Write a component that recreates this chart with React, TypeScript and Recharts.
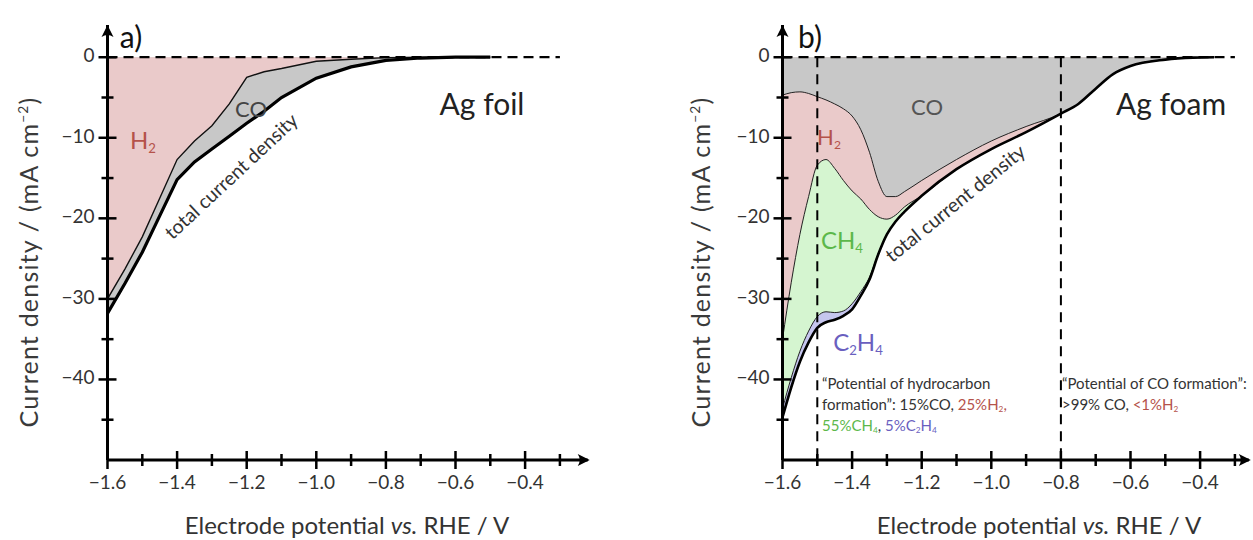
import React from "react";
import { ComposedChart, Area, Line, XAxis, YAxis, ReferenceLine, ReferenceDot } from "recharts";

const FONT = "Lato, 'Open Sans', sans-serif";

// axis ticks (potential in V vs RHE, current density in mA cm-2)
const X_MAJOR = [-1.6, -1.4, -1.2, -1.0, -0.8, -0.6, -0.4];
const X_LABELS = ["−1.6", "−1.4", "−1.2", "−1.0", "−0.8", "−0.6", "−0.4"];
const X_MINOR = [-1.5, -1.3, -1.1, -0.9, -0.7, -0.5, -0.3];
const Y_MAJOR = [0, -10, -20, -30, -40];
const Y_LABELS = ["0", "−10", "−20", "−30", "−40"];
const Y_MINOR = [-5, -15, -25, -35, -45];

// a) Ag foil
const A_POTENTIAL = [-1.6, -1.55, -1.5, -1.45, -1.4, -1.35, -1.3, -1.25, -1.2, -1.15, -1.1, -1.0, -0.9, -0.8, -0.7, -0.6, -0.5];
const A_TOTAL = [-31.8, -28.1, -24.2, -19.7, -15.2, -13.0, -11.4, -9.8, -8.2, -6.7, -5.0, -2.6, -1.2, -0.4, -0.1, 0, 0];
const A_H2_EDGE = [-30.0, -26.3, -22.3, -17.5, -12.7, -10.4, -8.5, -5.8, -2.5, -1.8, -1.4, -0.5, -0.25, -0.05, 0, 0, 0];

// b) Ag foam
const B_POTENTIAL = [-1.6, -1.575, -1.55, -1.525, -1.5, -1.475, -1.45, -1.425, -1.4, -1.375, -1.35, -1.325, -1.3, -1.275, -1.25, -1.2, -1.1, -1.0, -0.9, -0.8, -0.75, -0.7, -0.65, -0.6, -0.5, -0.42, -0.36];
const B_TOTAL = [-44.7, -41.0, -37.8, -35.4, -33.6, -32.9, -32.6, -32.1, -31.3, -29.6, -27.6, -24.5, -22.0, -20.4, -19.2, -17.2, -13.9, -11.4, -9.3, -7.0, -5.8, -3.9, -2.1, -1.1, -0.3, -0.05, 0];
const B_C2H4_EDGE = [-43.6, -39.8, -36.5, -34.0, -32.2, -31.6, -31.7, -31.5, -30.6, -29.1, -27.3, -24.4, -22.0, -20.4, -19.2, -17.2, -13.9, -11.4, -9.3, -7.0, -5.8, -3.9, -2.1, -1.1, -0.3, -0.05, 0];
const B_CH4_EDGE = [-35.0, -28.0, -22.0, -17.3, -13.4, -12.7, -13.8, -15.3, -16.6, -17.6, -18.9, -19.8, -20.1, -19.6, -18.6, -17.2, -13.9, -11.4, -9.3, -7.0, -5.8, -3.9, -2.1, -1.1, -0.3, -0.05, 0];
const B_H2_EDGE = [-4.7, -4.4, -4.3, -4.5, -4.9, -5.3, -5.8, -6.4, -7.3, -9.0, -11.8, -15.4, -17.3, -17.3, -16.7, -15.3, -12.7, -10.4, -8.6, -7.0, -5.8, -3.9, -2.1, -1.1, -0.3, -0.05, 0];

const dataA = A_POTENTIAL.map((v, i) => ({ v, total: A_TOTAL[i], h2: A_H2_EDGE[i] }));
const dataB = B_POTENTIAL.map((v, i) => ({
  v,
  total: B_TOTAL[i],
  c2h4: B_C2H4_EDGE[i],
  ch4: B_CH4_EDGE[i],
  h2: B_H2_EDGE[i],
}));

const X_TICKS = [...X_MAJOR, ...X_MINOR].sort((a, b) => a - b);
const Y_TICKS = [...Y_MAJOR, ...Y_MINOR].sort((a, b) => a - b);

const XTick = (props: any) => {
  const { x, y, payload } = props;
  const i = X_MAJOR.findIndex((t) => Math.abs(t - payload.value) < 1e-6);
  const h = i >= 0 ? 9 : 6;
  return (
    <g>
      <line x1={x} x2={x} y1={y - h} y2={y + h} stroke="#000" strokeWidth={2.5} />
      {i >= 0 && (
        <text x={x} y={y + 24} textAnchor="middle" dominantBaseline="middle" fontSize={19} fill="#333" fontFamily={FONT}>
          {X_LABELS[i]}
        </text>
      )}
    </g>
  );
};

const YTick = (props: any) => {
  const { x, y, payload } = props;
  const i = Y_MAJOR.findIndex((t) => Math.abs(t - payload.value) < 1e-6);
  const w = i >= 0 ? 9 : 6;
  return (
    <g>
      <line x1={x - w} x2={x + w} y1={y} y2={y} stroke="#000" strokeWidth={2.5} />
      {i >= 0 && (
        <text x={x - 13} y={y} textAnchor="end" dominantBaseline="middle" fontSize={19} fill="#333" fontFamily={FONT}>
          {Y_LABELS[i]}
        </text>
      )}
    </g>
  );
};

const UpArrow = (p: any) => (
  <path d={`M ${p.cx} ${p.cy} L ${p.cx + 6} ${p.cy + 12} Q ${p.cx} ${p.cy + 8} ${p.cx - 6} ${p.cy + 12} Z`} fill="#000" />
);
const RightArrow = (p: any) => (
  <path d={`M ${p.cx + 2} ${p.cy} L ${p.cx - 10} ${p.cy + 6} Q ${p.cx - 6} ${p.cy} ${p.cx - 10} ${p.cy - 6} Z`} fill="#000" />
);

const Txt = ({ x, y, size = 20, color = "#333", rotate = 0, spacing = 0, children }: any) => (
  <div
    style={{
      position: "absolute",
      left: x,
      top: y,
      transform: `translate(-50%, -50%) rotate(${rotate}deg)`,
      fontSize: size,
      color,
      letterSpacing: spacing,
      whiteSpace: "nowrap",
      lineHeight: 1,
    }}
  >
    {children}
  </div>
);

const Sub = ({ children }: any) => (
  <sub style={{ fontSize: "0.55em", verticalAlign: "-0.3em", lineHeight: 0 }}>{children}</sub>
);

const YMIN = -50;
const YMAX = 4;
const PX_PER_V = 348;

const axes = (xMax: number) => [
  <XAxis
    key="x"
    type="number"
    dataKey="v"
    domain={[-1.6, xMax]}
    allowDataOverflow
    ticks={X_TICKS}
    interval={0}
    tick={<XTick />}
    tickLine={false}
    tickSize={0}
    tickMargin={0}
    height={40}
    axisLine={{ stroke: "#000", strokeWidth: 3 }}
  />,
  <YAxis
    key="y"
    type="number"
    domain={[YMIN, YMAX]}
    allowDataOverflow
    ticks={Y_TICKS}
    interval={0}
    tick={<YTick />}
    tickLine={false}
    tickSize={0}
    tickMargin={0}
    width={60}
    axisLine={{ stroke: "#000", strokeWidth: 3 }}
  />,
];

const A_XMAX = -0.22;
const B_XMAX = -0.26;

const YTitle = ({ x }: { x: number }) => (
  <Txt x={x} y={262} size={25} color="#3a3a3a" rotate={-90} spacing={1.2}>
    Current density / (mA cm<sup style={{ fontSize: "0.55em", lineHeight: 0 }}>−2</sup>)
  </Txt>
);

const App: React.FC = () => {
  const wA = 620;
  const rightA = wA - 107.5 - (A_XMAX + 1.6) * PX_PER_V;
  const wB = 578.5;
  const rightB = wB - 107.5 - (B_XMAX + 1.6) * PX_PER_V;

  return (
    <div style={{ position: "absolute", left: 0, top: 0, width: 1253, height: 540, background: "#fff", fontFamily: FONT, overflow: "hidden" }}>
      <div style={{ position: "absolute", left: 0, top: 0 }}>
        <ComposedChart width={wA} height={540} data={dataA} margin={{ top: 25, right: rightA, left: 47.5, bottom: 40 }}>
          {axes(A_XMAX)}
          <Area type="linear" dataKey="total" stroke="none" fill="#c8c8c8" fillOpacity={1} isAnimationActive={false} />
          <Area type="linear" dataKey="h2" stroke="none" fill="#eacaca" fillOpacity={1} isAnimationActive={false} />
          <Line type="linear" dataKey="h2" stroke="#111" strokeWidth={1.4} dot={false} isAnimationActive={false} />
          <Line type="linear" dataKey="total" stroke="#000" strokeWidth={3.2} dot={false} isAnimationActive={false} />
          <ReferenceLine segment={[{ x: -1.6, y: 0 }, { x: -0.3, y: 0 }]} stroke="#000" strokeWidth={2.2} strokeDasharray="10 6" />
          <ReferenceDot x={-1.6} y={YMAX} r={1} ifOverflow="visible" shape={UpArrow} />
          <ReferenceDot x={A_XMAX} y={YMIN} r={1} ifOverflow="visible" shape={RightArrow} />
        </ComposedChart>
      </div>
      <div style={{ position: "absolute", left: 674.5, top: 0 }}>
        <ComposedChart width={wB} height={540} data={dataB} margin={{ top: 25, right: rightB, left: 47.5, bottom: 40 }}>
          {axes(B_XMAX)}
          <Area type="monotone" dataKey="total" stroke="none" fill="#c6c6ef" fillOpacity={1} isAnimationActive={false} />
          <Area type="monotone" dataKey="c2h4" stroke="none" fill="#d5f5d0" fillOpacity={1} isAnimationActive={false} />
          <Area type="monotone" dataKey="ch4" stroke="none" fill="#eacaca" fillOpacity={1} isAnimationActive={false} />
          <Area type="monotone" dataKey="h2" stroke="none" fill="#c8c8c8" fillOpacity={1} isAnimationActive={false} />
          <Line type="monotone" dataKey="c2h4" stroke="#222" strokeWidth={1} dot={false} isAnimationActive={false} />
          <Line type="monotone" dataKey="ch4" stroke="#222" strokeWidth={1} dot={false} isAnimationActive={false} />
          <Line type="monotone" dataKey="h2" stroke="#222" strokeWidth={1} dot={false} isAnimationActive={false} />
          <Line type="monotone" dataKey="total" stroke="#000" strokeWidth={2.6} dot={false} isAnimationActive={false} />
          <ReferenceLine segment={[{ x: -1.6, y: 0 }, { x: -0.3, y: 0 }]} stroke="#000" strokeWidth={2.2} strokeDasharray="10 6" />
          <ReferenceLine segment={[{ x: -1.5, y: 0 }, { x: -1.5, y: YMIN }]} stroke="#000" strokeWidth={2} strokeDasharray="10 7" />
          <ReferenceLine segment={[{ x: -0.8, y: 0 }, { x: -0.8, y: YMIN }]} stroke="#000" strokeWidth={2} strokeDasharray="10 7" />
          <ReferenceDot x={-1.6} y={YMAX} r={1} ifOverflow="visible" shape={UpArrow} />
          <ReferenceDot x={B_XMAX} y={YMIN} r={1} ifOverflow="visible" shape={RightArrow} />
        </ComposedChart>
      </div>

      {/* panel a texts */}
      <Txt x={131} y={36} size={30} color="#111">a)</Txt>
      <Txt x={482} y={103} size={30} color="#222">Ag foil</Txt>
      <Txt x={143} y={140} size={24} color="#b5524a">H<Sub>2</Sub></Txt>
      <Txt x={251} y={109} size={22} color="#444">CO</Txt>
      <Txt x={231} y={176} size={19.5} color="#333" rotate={-43}>total current density</Txt>
      <YTitle x={28} />
      <Txt x={347} y={525} size={24} color="#333">
        Electrode potential <i>vs.</i> RHE / V
      </Txt>

      {/* panel b texts */}
      <Txt x={810} y={36} size={30} color="#111">b)</Txt>
      <Txt x={1171} y={103} size={30} color="#222">Ag foam</Txt>
      <Txt x={927} y={107} size={22} color="#555">CO</Txt>
      <Txt x={829} y={137} size={22} color="#b5524a">H<Sub>2</Sub></Txt>
      <Txt x={842} y={240} size={24} color="#5cb84a">CH<Sub>4</Sub></Txt>
      <Txt x={858} y={342} size={24} color="#6a5fbf">C<Sub>2</Sub>H<Sub>4</Sub></Txt>
      <Txt x={955} y={203} size={19.5} color="#333" rotate={-39}>total current density</Txt>
      <YTitle x={700} />
      <Txt x={1039} y={525} size={24} color="#333">
        Electrode potential <i>vs.</i> RHE / V
      </Txt>

      <div style={{ position: "absolute", left: 822, top: 373, fontSize: 15, lineHeight: "21px", color: "#333", whiteSpace: "nowrap" }}>
        <div>“Potential of hydrocarbon</div>
        <div>
          formation”: 15%CO, <span style={{ color: "#b5524a" }}>25%H<Sub>2</Sub>,</span>
        </div>
        <div>
          <span style={{ color: "#5cb84a" }}>55%CH<Sub>4</Sub></span>, <span style={{ color: "#6a5fbf" }}>5%C<Sub>2</Sub>H<Sub>4</Sub></span>
        </div>
      </div>
      <div style={{ position: "absolute", left: 1062, top: 373, fontSize: 15, lineHeight: "21px", color: "#333", whiteSpace: "nowrap" }}>
        <div>“Potential of CO formation”:</div>
        <div>
          &gt;99% CO, <span style={{ color: "#b5524a" }}>&lt;1%H<Sub>2</Sub></span>
        </div>
      </div>
    </div>
  );
};

export default App;
